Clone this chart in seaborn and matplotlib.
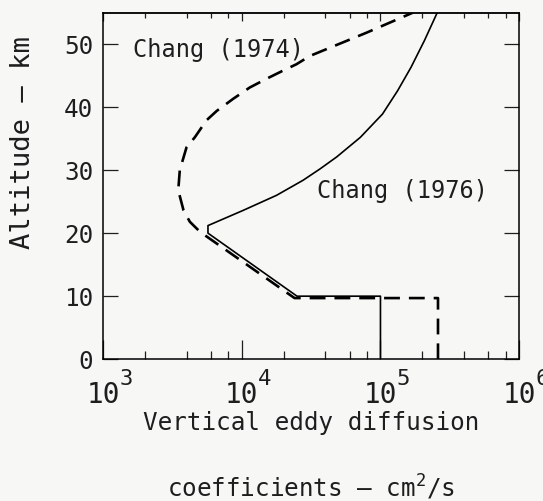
import numpy as np
import matplotlib
matplotlib.use('Agg')
import matplotlib.pyplot as plt
from matplotlib.ticker import FixedLocator, LogLocator, NullFormatter
import seaborn as sb

# Chang (1976) - solid line (altitude km, eddy coefficient cm^2/s)
alt_1976 = [0, 10, 10, 20, 21.2, 23.6, 26.0, 28.4, 30.2, 32.1, 35.2, 38.9, 42.6, 46.3, 50.5, 55]
k_1976 = [1.0e5, 1.0e5, 2.5e4, 5.7e3, 5.7e3, 1.02e4, 1.78e4, 2.77e4, 3.67e4, 4.84e4,
          7.16e4, 1.035e5, 1.33e5, 1.66e5, 2.07e5, 2.57e5]

# Chang (1974) - dashed line
alt_1974 = [0, 9.7, 9.7, 20.2, 21.8, 23.6, 26.8, 30.0, 33.6, 35.2, 37.9, 39.4, 41.3,
            43.1, 44.5, 45.8, 46.8, 48.1, 51.8, 55]
k_1974 = [2.6e5, 2.6e5, 2.4e4, 5.0e3, 4.22e3, 3.8e3, 3.48e3, 3.57e3, 3.99e3, 4.58e3,
          5.56e3, 6.6e3, 8.65e3, 1.14e4, 1.51e4, 1.99e4, 2.48e4, 3.09e4, 7.93e4, 1.72e5]

x_ticks = [1e3, 1e4, 1e5, 1e6]
x_ticklabels = ['10', '10', '10', '10']
x_exponents = ['3', '4', '5', '6']
y_ticks = [0, 10, 20, 30, 40, 50]

sb.set_style('ticks')
plt.rcParams['font.family'] = ['DejaVu Sans Mono', 'DejaVu Sans']
plt.rcParams['mathtext.fontset'] = 'custom'
plt.rcParams['mathtext.rm'] = 'DejaVu Sans Mono'
ink = '#1e1e1e'
plt.rcParams['text.color'] = ink
plt.rcParams['xtick.color'] = ink
plt.rcParams['ytick.color'] = ink
plt.rcParams['axes.labelcolor'] = ink

bg = '#f7f7f6'
fig = plt.figure(figsize=(5.43, 5.01), dpi=100, facecolor=bg)
ax = fig.add_axes([0.190, 0.283, 0.766, 0.692])
ax.set_facecolor(bg)

sb.lineplot(x=k_1976, y=alt_1976, sort=False, estimator=None, color='black',
            lw=1.2, ax=ax)
sb.lineplot(x=k_1974, y=alt_1974, sort=False, estimator=None, color='black',
            lw=1.9, linestyle=(0, (6, 3.4)), ax=ax)

ax.set_xscale('log')
ax.set_xlim(1e3, 1e6)
ax.set_ylim(0, 55)

ax.xaxis.set_major_locator(FixedLocator(x_ticks))
ax.set_xticklabels(x_ticklabels)
ax.xaxis.set_minor_locator(LogLocator(base=10, subs=(2, 4, 6, 8), numticks=20))
ax.xaxis.set_minor_formatter(NullFormatter())
ax.set_yticks(y_ticks)

for s in ax.spines.values():
    s.set_linewidth(1.1)
    s.set_color('black')

ax.tick_params(axis='x', which='major', direction='in', length=13.5, width=0.9,
               labelsize=20, pad=16, top=False)
ax.tick_params(axis='x', which='minor', direction='in', length=5.8, width=0.9, top=False)
ax.tick_params(axis='y', which='major', direction='in', length=10.5, width=0.9,
               labelsize=17.5, pad=7, right=True)

# exponents of the decade labels
for t, e in zip(x_ticks, x_exponents):
    ax.annotate(e, xy=(t, 0), xycoords=('data', 'axes fraction'),
                xytext=(11.5, -14.5), textcoords='offset points',
                fontsize=16, ha='left', va='center', annotation_clip=False)

# shorter ticks along the top edge
top = ax.secondary_xaxis('top')
top.xaxis.set_major_locator(FixedLocator(x_ticks))
top.xaxis.set_minor_locator(LogLocator(base=10, subs=(2, 4, 6, 8), numticks=20))
top.xaxis.set_major_formatter(NullFormatter())
top.xaxis.set_minor_formatter(NullFormatter())
top.tick_params(which='major', direction='in', length=5.5, width=0.9)
top.tick_params(which='minor', direction='in', length=3.5, width=0.9)
top.spines['top'].set_linewidth(1.1)

ax.text(1.646e3, 48.0, 'Chang (1974)', fontsize=17, ha='left', va='baseline')
ax.text(3.46e4, 25.5, 'Chang (1976)', fontsize=17, ha='left', va='baseline')

ax.set_ylabel('Altitude – km', fontsize=19.5)
ax.yaxis.set_label_coords(-0.193, 0.624)
ax.yaxis.label.set_va('center')

ax.set_xlabel('Vertical eddy diffusion\ncoefficients – cm$^{\\mathregular{2}}$/s',
              fontsize=17.5, linespacing=2.57)
ax.xaxis.set_label_coords(0.5, -0.149)

plt.savefig('out.png', dpi=100, facecolor=bg)
